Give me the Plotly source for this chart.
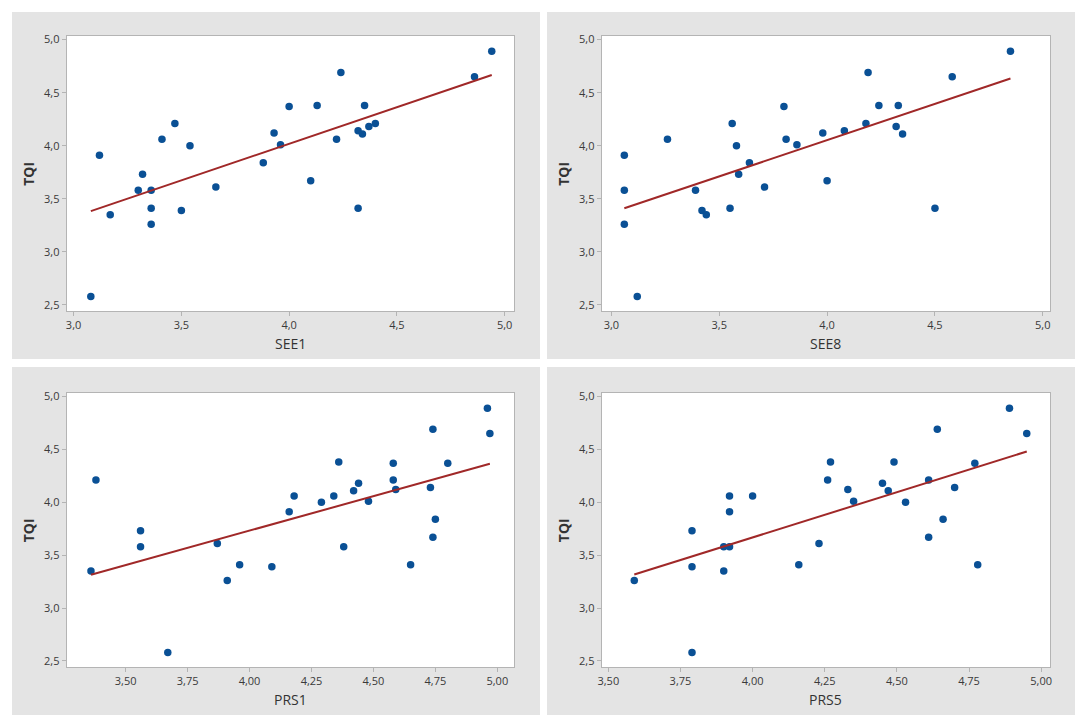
import numpy as np
import plotly.graph_objects as go
from plotly.subplots import make_subplots

# Values (x, TQI)
see1 = [3.08, 3.12, 3.17, 3.30, 3.32, 3.36, 3.36, 3.36, 3.41, 3.47, 3.50, 3.54, 3.66, 3.88, 3.93,
        3.96, 4.00, 4.10, 4.13, 4.22, 4.24, 4.32, 4.32, 4.34, 4.35, 4.37, 4.40, 4.86, 4.94]
tqi_see1 = [2.58, 3.91, 3.35, 3.58, 3.73, 3.58, 3.41, 3.26, 4.06, 4.21, 3.39, 4.00, 3.61, 3.84, 4.12,
            4.01, 4.37, 3.67, 4.38, 4.06, 4.69, 3.41, 4.14, 4.11, 4.38, 4.18, 4.21, 4.65, 4.89]

see8 = [3.06, 3.06, 3.06, 3.12, 3.26, 3.39, 3.42, 3.44, 3.55, 3.56, 3.58, 3.59, 3.64, 3.71, 3.80,
        3.81, 3.86, 3.98, 4.00, 4.08, 4.18, 4.19, 4.24, 4.32, 4.33, 4.35, 4.50, 4.58, 4.85]
tqi_see8 = [3.91, 3.58, 3.26, 2.58, 4.06, 3.58, 3.39, 3.35, 3.41, 4.21, 4.00, 3.73, 3.84, 3.61, 4.37,
            4.06, 4.01, 4.12, 3.67, 4.14, 4.21, 4.69, 4.38, 4.18, 4.38, 4.11, 3.41, 4.65, 4.89]

prs1 = [3.36, 3.38, 3.56, 3.56, 3.67, 3.87, 3.91, 3.96, 4.09, 4.16, 4.18, 4.29, 4.34, 4.36, 4.38,
        4.42, 4.44, 4.48, 4.58, 4.58, 4.59, 4.65, 4.73, 4.74, 4.74, 4.75, 4.80, 4.96, 4.97]
tqi_prs1 = [3.35, 4.21, 3.73, 3.58, 2.58, 3.61, 3.26, 3.41, 3.39, 3.91, 4.06, 4.00, 4.06, 4.38, 3.58,
            4.11, 4.18, 4.01, 4.37, 4.21, 4.12, 3.41, 4.14, 3.67, 4.69, 3.84, 4.37, 4.89, 4.65]

prs5 = [3.59, 3.79, 3.79, 3.79, 3.90, 3.90, 3.92, 3.92, 3.92, 4.00, 4.16, 4.23, 4.26, 4.27, 4.33,
        4.35, 4.45, 4.47, 4.49, 4.53, 4.61, 4.61, 4.64, 4.66, 4.70, 4.77, 4.78, 4.89, 4.95]
tqi_prs5 = [3.26, 3.73, 3.39, 2.58, 3.58, 3.35, 4.06, 3.91, 3.58, 4.06, 3.41, 3.61, 4.21, 4.38, 4.12,
            4.01, 4.18, 4.11, 4.38, 4.00, 4.21, 3.67, 4.69, 3.84, 4.14, 4.37, 3.41, 4.89, 4.65]

panels = [
    ('SEE1', see1, tqi_see1, [2.968, 5.044], 0.5, '.1f'),
    ('SEE8', see8, tqi_see8, [2.955, 5.034], 0.5, '.1f'),
    ('PRS1', prs1, tqi_prs1, [3.262, 5.068], 0.25, '.2f'),
    ('PRS5', prs5, tqi_prs5, [3.477, 5.031], 0.25, '.2f'),
]

# the page body has an 8px margin, so the figure is a bit smaller than the window
OFF = 8
W, H = 1085 - 2 * OFF, 723 - 2 * OFF
dot_color = '#0a5095'
fit_color = '#a02828'
frame = '#b4b4b4'

fig = make_subplots(rows=2, cols=2)

for i, (name, xs, ys, xr, dt, fmt) in enumerate(panels):
    r, c = i // 2 + 1, i % 2 + 1
    fig.add_trace(go.Scatter(x=xs, y=ys, mode='markers',
                             marker=dict(color=dot_color, size=7.5), hoverinfo='x+y'),
                  row=r, col=c)
    # least-squares fitted line
    b, a = np.polyfit(xs, ys, 1)
    xl = np.array([min(xs), max(xs)])
    fig.add_trace(go.Scatter(x=xl, y=a + b * xl, mode='lines',
                             line=dict(color=fit_color, width=2), hoverinfo='skip'),
                  row=r, col=c)
    fig.update_xaxes(range=xr, dtick=dt, tick0=3.0, tickformat=fmt, row=r, col=c)

# window pixel boxes -> paper coordinates
def px(x0, x1):
    return [max(0, (x0 - OFF) / W), min(1, (x1 - OFF) / W)]

def py(y0, y1):
    return [max(0, 1 - (y1 - OFF) / H), min(1, 1 - (y0 - OFF) / H)]

plot_x = [px(63, 513), px(601, 1052)]
plot_y = [py(32, 309), py(391, 667)]
panel_x = [px(7, 539), px(546, 1077)]
panel_y = [py(7, 357), py(365, 715)]

axis_style = dict(showline=True, linecolor=frame, linewidth=1, mirror=True,
                  showgrid=False, zeroline=False, ticks='outside', ticklen=4,
                  tickcolor=frame, tickfont=dict(family='Open Sans', size=11, color='#3a3a3a'))

shapes = []
annotations = []
for i, (name, *_rest) in enumerate(panels):
    r, c = i // 2, i % 2
    n = '' if i == 0 else str(i + 1)
    fig['layout']['xaxis' + n].update(domain=plot_x[c], **axis_style)
    fig['layout']['yaxis' + n].update(domain=plot_y[r], range=[2.44, 5.035], dtick=0.5,
                                      tickformat='.1f', **axis_style)
    shapes.append(dict(type='rect', xref='paper', yref='paper', layer='below',
                       x0=panel_x[c][0], x1=panel_x[c][1], y0=panel_y[r][0], y1=panel_y[r][1],
                       fillcolor='#e4e4e4', line=dict(width=0)))
    shapes.append(dict(type='rect', xref='paper', yref='paper', layer='below',
                       x0=plot_x[c][0], x1=plot_x[c][1], y0=plot_y[r][0], y1=plot_y[r][1],
                       fillcolor='white', line=dict(width=0)))
    xa = 'x' + n
    ya = 'y' + n
    annotations.append(dict(text=name, xref=xa + ' domain', yref=ya + ' domain', x=0.5, y=0,
                            yanchor='top', yshift=-21, showarrow=False,
                            font=dict(family='Open Sans', size=14, color='#333333')))
    annotations.append(dict(text='<b>TQI</b>', xref=xa + ' domain', yref=ya + ' domain', x=0, y=0.5,
                            xanchor='right', xshift=-27, textangle=-90, showarrow=False,
                            font=dict(family='Open Sans', size=14, color='#333333')))

fig.update_layout(
    width=W, height=H,
    margin=dict(l=0, r=0, t=0, b=0),
    paper_bgcolor='white',
    plot_bgcolor='white',
    separators=', ',
    showlegend=False,
    shapes=shapes,
    annotations=annotations,
)

fig.write_html("out.html")
